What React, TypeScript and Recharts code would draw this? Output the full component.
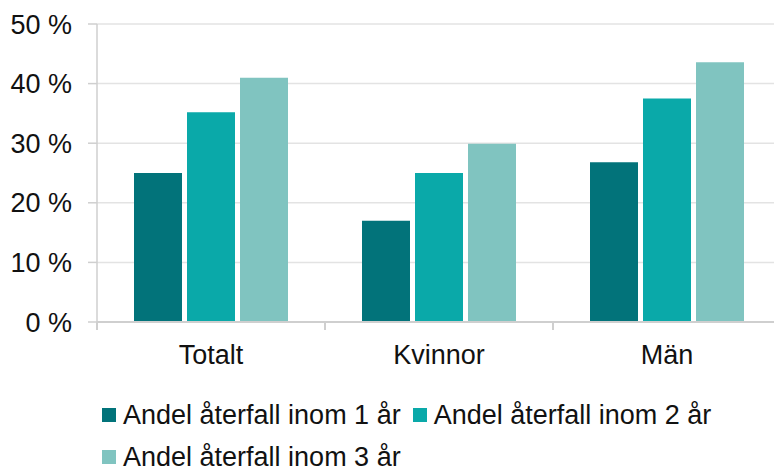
import { BarChart, Bar, XAxis, YAxis, CartesianGrid, Legend } from 'recharts';

const categories = ['Totalt', 'Kvinnor', 'Män'];
const within1 = [25, 17, 26.8];
const within2 = [35.2, 25, 37.5];
const within3 = [41, 29.9, 43.6];
const seriesNames = [
  'Andel återfall inom 1 år',
  'Andel återfall inom 2 år',
  'Andel återfall inom 3 år',
];
const yTicks = [0, 10, 20, 30, 40, 50];

const colors = ['#02737a', '#0aa9a9', '#80c4c0'];
const font = '"Liberation Sans", Arial, sans-serif';

const data = categories.map((name, i) => ({
  name,
  s1: within1[i],
  s2: within2[i],
  s3: within3[i],
}));

// category ticks sit on band edges, not band centres
const CategoryTick = (props: any) => {
  const { x, y, payload, index, visibleTicksCount } = props;
  const half = payload?.offset ?? 0;
  const top = y - 23;
  const isLast = index === visibleTicksCount - 1;
  return (
    <g>
      <line x1={x - half} x2={x - half} y1={top} y2={top + 8} stroke="#cfcfcf" strokeWidth={2} />
      {isLast && (
        <line x1={x + half} x2={x + half} y1={top} y2={top + 8} stroke="#cfcfcf" strokeWidth={2} />
      )}
      <text x={x} y={y} dy="0.71em" textAnchor="middle" fill="#111" fontSize={27} fontFamily={font}>
        {payload.value}
      </text>
    </g>
  );
};

const LegendContent = (props: any) => {
  const { payload } = props;
  return (
    <div
      style={{
        display: 'flex',
        flexWrap: 'wrap',
        columnGap: 12,
        rowGap: 16,
        paddingTop: 10,
        fontFamily: font,
        fontSize: 27,
        color: '#111',
        lineHeight: '26px',
      }}
    >
      {(payload || []).map((p: any) => (
        <div key={p.value} style={{ display: 'flex', alignItems: 'center', whiteSpace: 'nowrap' }}>
          <span style={{ width: 14, height: 14, background: p.color, marginRight: 7, display: 'inline-block' }} />
          <span>{p.value}</span>
        </div>
      ))}
    </div>
  );
};

const App = () => {
  return (
    <div style={{ position: 'fixed', left: 0, top: 0, width: 774, height: 472, overflow: 'hidden', background: '#fff' }}>
      <BarChart
        width={790}
        height={472}
        data={data}
        margin={{ top: 24, right: 9, left: 0, bottom: 0 }}
        barCategoryGap={37}
        barGap={5}
      >
        <CartesianGrid vertical={false} stroke="#e3e3e3" strokeWidth={1.5} />
        <XAxis
          dataKey="name"
          height={70}
          axisLine={{ stroke: '#cfcfcf', strokeWidth: 2 }}
          tickLine={false}
          tickSize={8}
          tickMargin={15}
          tick={<CategoryTick />}
          interval={0}
        />
        <YAxis
          width={97}
          domain={[0, 50]}
          ticks={yTicks}
          tickFormatter={(v) => `${v} %`}
          axisLine={{ stroke: '#cfcfcf', strokeWidth: 1.5 }}
          tickLine={{ stroke: '#cfcfcf', strokeWidth: 1.5 }}
          tickSize={9}
          tickMargin={16}
          tick={{ fontSize: 27, fill: '#111', fontFamily: font }}
        />
        <Legend
          verticalAlign="bottom"
          height={80}
          wrapperStyle={{ left: 102, width: 680 }}
          content={<LegendContent />}
        />
        <Bar dataKey="s1" name={seriesNames[0]} fill={colors[0]} isAnimationActive={false} />
        <Bar dataKey="s2" name={seriesNames[1]} fill={colors[1]} isAnimationActive={false} />
        <Bar dataKey="s3" name={seriesNames[2]} fill={colors[2]} isAnimationActive={false} />
      </BarChart>
    </div>
  );
};

export default App;
